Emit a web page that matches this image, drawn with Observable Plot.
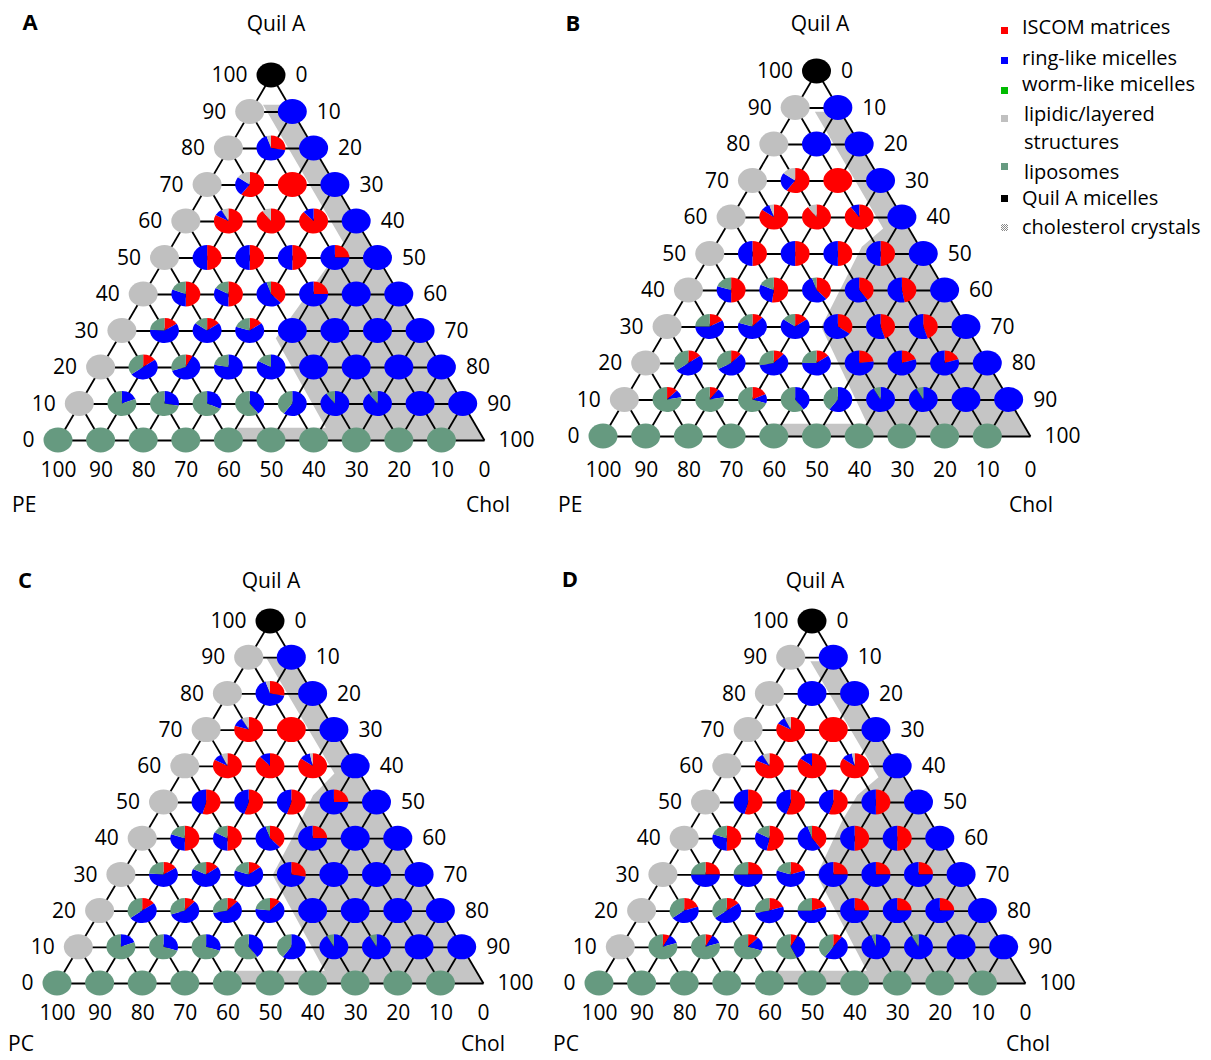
<!DOCTYPE html>
<html>
<head>
<meta charset="utf-8">
<script src="https://cdn.jsdelivr.net/npm/d3@7"></script>
<script src="https://cdn.jsdelivr.net/npm/@observablehq/plot@0.6"></script>
<style>
  html, body { margin: 0; background: #fff; }
  #fig { position: relative; width: 1211px; height: 1060px; overflow: hidden; font-family: "Open Sans", sans-serif; }
  .panel { position: absolute; }
  .lab { position: absolute; font-size: 21px; line-height: 1; color: #000; white-space: nowrap; z-index: 2; }
  .leg { font-size: 20px; }
  .sw { position: absolute; width: 7px; height: 7px; z-index: 2; }
</style>
</head>
<body>
<div id="fig"></div>
<script>
// ---------------- data ----------------
const quilA = [100, 90, 80, 70, 60, 50, 40, 30, 20, 10, 0];     // rows, top to bottom
const gridSteps = [0, 10, 20, 30, 40, 50, 60, 70, 80, 90];      // grid line values
const cholTicks = [0, 10, 20, 30, 40, 50, 60, 70, 80, 90, 100];  // bottom axis positions (Chol %)

const legendLabels = ["ISCOM matrices", "ring-like micelles", "worm-like micelles",
  "lipidic/layered", "liposomes", "Quil A micelles", "cholesterol crystals"];
const legendSecondLine = ["", "", "", "structures", "", "", ""];
const legendKeys = ["R", "B", "W", "G", "L", "K", "X"];
const colors = { R: "#ff0000", B: "#0000ff", W: "#00bb00", G: "#c0c0c0", L: "#669a80", K: "#000000" };
const sliceKeys = ["R", "B", "G", "L"]; // pie slice order: ISCOM, ring-like, lipidic, liposomes

// each row = one Quil A level (100..0); entry j = Chol 10*j
// a letter = a single structure; an array = fractions [ISCOM, ring-like, lipidic, liposomes]
const pieA = [
  ["K"],
  ["G", "B"],
  ["G", [.28, .67, .05, 0], "B"],
  ["G", [.6, .25, .15, 0], "R", "B"],
  ["G", [.83, .09, .08, 0], [.9, 0, .1, 0], [.88, .12, 0, 0], "B"],
  ["G", [.5, .5, 0, 0], [.5, .5, 0, 0], [.5, .5, 0, 0], [.25, .75, 0, 0], "B"],
  ["G", [.5, .31, 0, .19], [.5, .33, 0, .17], [.38, .57, 0, .05], [.25, .75, 0, 0], "B", "B"],
  ["G", [.16, .6, 0, .24], [.15, .7, 0, .15], [.15, .65, 0, .2], "B", "B", "B", "B"],
  ["G", [.15, .5, 0, .35], [.08, .62, 0, .3], [0, .78, 0, .22], [0, .83, 0, .17], "B", "B", "B", "B"],
  ["G", [0, .19, 0, .81], [0, .28, 0, .72], [0, .32, 0, .68], [0, .4, 0, .6], [0, .6, 0, .4], [0, .9, 0, .1], [0, .9, 0, .1], "B", "B"],
  ["L", "L", "L", "L", "L", "L", "L", "L", "L", "L"]
];
const pieB = [
  ["K"],
  ["G", "B"],
  ["G", "B", "B"],
  ["G", [.6, .25, .15, 0], "R", "B"],
  ["G", [.85, .1, .05, 0], [.9, 0, .1, 0], [.9, .1, 0, 0], "B"],
  ["G", [.5, .5, 0, 0], [.5, .5, 0, 0], [.5, .5, 0, 0], [.5, .5, 0, 0], "B"],
  ["G", [.5, .3, 0, .2], [.52, .3, 0, .18], [.38, .57, 0, .05], [.4, .6, 0, 0], [.47, .53, 0, 0], "B"],
  ["G", [.17, .58, 0, .25], [.12, .68, 0, .2], [.15, .7, 0, .15], [.35, .65, 0, 0], [.45, .55, 0, 0], [.45, .55, 0, 0], "B"],
  ["G", [.15, .5, 0, .35], [.12, .55, 0, .33], [.12, .6, 0, .28], [.15, .6, 0, .25], [.23, .77, 0, 0], [.2, .8, 0, 0], [.2, .8, 0, 0], "B"],
  ["G", [.12, .1, 0, .78], [.1, .12, 0, .78], [.18, .12, 0, .7], [0, .4, 0, .6], [0, .6, 0, .4], [0, .92, 0, .08], [0, .92, 0, .08], "B", "B"],
  ["L", "L", "L", "L", "L", "L", "L", "L", "L", "L"]
];
const pieC = [
  ["K"],
  ["G", "B"],
  ["G", [.28, .67, .05, 0], "B"],
  ["G", [.8, .12, .08, 0], "R", "B"],
  ["G", [.83, .1, .07, 0], [.88, .12, 0, 0], [.85, .12, .03, 0], "B"],
  ["G", [.54, .46, 0, 0], [.55, .45, 0, 0], [.55, .45, 0, 0], [.25, .75, 0, 0], "B"],
  ["G", [.5, .3, 0, .2], [.5, .33, 0, .17], [.38, .57, 0, .05], [.25, .75, 0, 0], "B", "B"],
  ["G", [.16, .6, 0, .24], [.15, .67, 0, .18], [.15, .65, 0, .2], [.28, .72, 0, 0], "B", "B", "B"],
  ["G", [.15, .5, 0, .35], [.12, .58, 0, .3], [.12, .6, 0, .28], [.12, .65, 0, .23], "B", "B", "B", "B"],
  ["G", [0, .19, 0, .81], [0, .3, 0, .7], [0, .3, 0, .7], [0, .4, 0, .6], [0, .6, 0, .4], [0, .92, 0, .08], [0, .92, 0, .08], "B", "B"],
  ["L", "L", "L", "L", "L", "L", "L", "L", "L", "L"]
];
const pieD = [
  ["K"],
  ["G", "B"],
  ["G", "B", "B"],
  ["G", [.83, .1, .07, 0], "R", "B"],
  ["G", [.82, .1, .08, 0], [.85, .15, 0, 0], [.85, .12, .03, 0], "B"],
  ["G", [.54, .46, 0, 0], [.55, .45, 0, 0], [.55, .45, 0, 0], [.5, .5, 0, 0], "B"],
  ["G", [.5, .3, 0, .2], [.53, .3, 0, .17], [.4, .55, 0, .05], [.5, .5, 0, 0], [.5, .5, 0, 0], "B"],
  ["G", [.25, .5, 0, .25], [.25, .5, 0, .25], [.2, .6, 0, .2], [.25, .75, 0, 0], [.25, .75, 0, 0], [.25, .75, 0, 0], "B"],
  ["G", [.2, .45, 0, .35], [.15, .5, 0, .35], [.2, .52, 0, .28], [.2, .55, 0, .25], [.25, .75, 0, 0], [.25, .75, 0, 0], [.25, .75, 0, 0], "B"],
  ["G", [.08, .12, 0, .8], [.08, .12, 0, .8], [.12, .18, 0, .7], [.08, .35, 0, .57], [.1, .5, 0, .4], [0, .95, 0, .05], [0, .92, 0, .08], "B", "B"],
  ["L", "L", "L", "L", "L", "L", "L", "L", "L", "L"]
];

// cholesterol-crystal regions, vertices as [Chol %, Quil A %]
const crystalsA = [[8, 92], [100, 0], [42, 0], [40.25, 3.5], [61, 3.5], [37, 28], [40, 54], [2, 92]];
const crystalsB = [[11, 89], [100, 0], [38.5, 0], [36.75, 3.5], [60, 3.5], [36, 30], [34.5, 52], [37, 57], [5, 89]];
const crystalsC = [[10, 90], [100, 0], [42, 0], [40.25, 3.5], [61, 3.5], [35.5, 30], [35, 40], [34, 52], [36, 58], [4, 90]];
const crystalsD = [[11, 89], [100, 0], [41.3, 0], [39.5, 3.5], [61, 3.5], [36, 30], [34.5, 45], [34.5, 52], [37, 57], [5, 89]];

// ---------------- helpers ----------------
const tx = (chol, q) => chol + q / 2;   // ternary -> horizontal coordinate
const RX = 14.5, RY = 12.5;
const DOT = "#8a8a8a";

function buildPoints(rows) {
  const pts = [];
  rows.forEach((row, i) => {
    const q = quilA[i];
    row.forEach((v, j) => {
      pts.push({ q, chol: j * 10, solid: typeof v === "string" ? v : null, parts: Array.isArray(v) ? v : null });
    });
  });
  return pts;
}

function patternMark(id) {
  return () => {
    const defs = d3.create("svg:defs");
    const p = defs.append("pattern").attr("id", id).attr("width", 2).attr("height", 2)
      .attr("patternUnits", "userSpaceOnUse");
    p.append("rect").attr("width", 2).attr("height", 2).attr("fill", "#ffffff");
    p.append("rect").attr("width", 1).attr("height", 1).attr("fill", DOT);
    p.append("rect").attr("x", 1).attr("y", 1).attr("width", 1).attr("height", 1).attr("fill", DOT);
    return defs.node();
  };
}

function pieMark(points) {
  const arc = d3.arc().innerRadius(0).outerRadius(1);
  const pie = d3.pie().sort(null).value(d => d.v);
  return (index, scales) => {
    const g = d3.create("svg:g");
    for (const p of points) {
      const cx = scales.x(tx(p.chol, p.q)), cy = scales.y(p.q);
      const gg = g.append("g").attr("transform", `translate(${cx},${cy}) scale(${RX},${RY})`);
      if (p.solid) {
        gg.append("circle").attr("r", 1).attr("fill", colors[p.solid]);
      } else {
        const slices = sliceKeys.map((k, i) => ({ k, v: p.parts[i] })).filter(d => d.v > 0);
        for (const a of pie(slices)) {
          gg.append("path").attr("d", arc(a)).attr("fill", colors[a.data.k]);
        }
      }
    }
    return g.node();
  };
}

const panels = [
  { id: "A", rows: pieA, crystals: crystalsA, left: 0, top: 0, x0: 58, w: 426, yb: 440, yt: 75, bdy: 30 },
  { id: "B", rows: pieB, crystals: crystalsB, left: 545, top: 0, x0: 58, w: 427, yb: 436, yt: 71, bdy: 34 },
  { id: "C", rows: pieC, crystals: crystalsC, left: 0, top: 545, x0: 57, w: 426, yb: 438, yt: 76, bdy: 30 },
  { id: "D", rows: pieD, crystals: crystalsD, left: 545, top: 545, x0: 54, w: 426, yb: 438, yt: 76, bdy: 30 }
];

const fig = document.getElementById("fig");

for (const P of panels) {
  const points = buildPoints(P.rows);
  const patId = "chol-" + P.id;
  const chart = Plot.plot({
    width: 545,
    height: 515,
    margin: 0,
    x: { domain: [0, 100], range: [P.x0, P.x0 + P.w], axis: null },
    y: { domain: [0, 100], range: [P.yb, P.yt], axis: null },
    style: { fontFamily: '"Open Sans", sans-serif', fontSize: "21px", background: "transparent", overflow: "visible" },
    marks: [
      patternMark(patId),
      Plot.line(P.crystals, { x: d => tx(d[0], d[1]), y: d => d[1], curve: "linear-closed", fill: `url(#${patId})`, stroke: "none" }),
      // constant Quil A (horizontal)
      Plot.link(gridSteps, { x1: q => tx(0, q), y1: q => q, x2: q => tx(100 - q, q), y2: q => q, stroke: "#000", strokeWidth: 1.8 }),
      // constant Chol
      Plot.link(gridSteps, { x1: c => tx(c, 0), y1: 0, x2: c => tx(c, 100 - c), y2: c => 100 - c, stroke: "#000", strokeWidth: 1.8 }),
      // constant lipid (PE/PC)
      Plot.link(gridSteps, { x1: p => tx(100 - p, 0), y1: 0, x2: p => tx(0, 100 - p), y2: p => 100 - p, stroke: "#000", strokeWidth: 1.8 }),
      pieMark(points),
      // left labels (Quil A %)
      Plot.text(quilA, { x: q => tx(0, q), y: q => q, text: q => String(q), textAnchor: "end", dx: -24, fontSize: 21, fill: "#000" }),
      // right labels
      Plot.text(quilA.filter(q => q > 0), { x: q => tx(100 - q, q), y: q => q, text: q => String(100 - q), textAnchor: "start", dx: 24, fontSize: 21, fill: "#000" }),
      Plot.text([0], { x: q => tx(100 - q, q), y: q => q, text: q => String(100 - q), textAnchor: "start", dx: 14, fontSize: 21, fill: "#000" }),
      // bottom labels (lipid %)
      Plot.text(cholTicks, { x: c => tx(c, 0), y: 0, text: c => String(100 - c), textAnchor: "middle", dy: P.bdy, fontSize: 21, fill: "#000" })
    ]
  });
  const div = document.createElement("div");
  div.className = "panel";
  div.style.left = P.left + "px";
  div.style.top = P.top + "px";
  div.appendChild(chart);
  fig.appendChild(div);
}

// ---------------- annotations (HTML) ----------------
function lab(text, x, y, anchor = "start", opts = {}) {
  const d = document.createElement("div");
  d.className = "lab" + (opts.cls ? " " + opts.cls : "");
  d.textContent = text;
  d.style.left = x + "px";
  d.style.top = y + "px";
  const tx = anchor === "middle" ? "-50%" : anchor === "end" ? "-100%" : "0";
  d.style.transform = `translate(${tx}, -55%)`;
  if (opts.bold) { d.style.fontWeight = "bold"; d.style.fontSize = "22px"; }
  fig.appendChild(d);
  return d;
}
const titles = [
  { letter: "A", lx: 30, ly: 22, qx: 276, qy: 25, lipid: "PE", px: 12, py: 506, cx: 510, cy: 506 },
  { letter: "B", lx: 573, ly: 23, qx: 820, qy: 25, lipid: "PE", px: 558, py: 506, cx: 1053, cy: 506 },
  { letter: "C", lx: 25, ly: 580, qx: 271, qy: 582, lipid: "PC", px: 8, py: 1045, cx: 505, cy: 1045 },
  { letter: "D", lx: 570, ly: 579, qx: 815, qy: 582, lipid: "PC", px: 553, py: 1045, cx: 1050, cy: 1045 }
];
for (const t of titles) {
  lab(t.letter, t.lx, t.ly, "middle", { bold: true });
  lab("Quil A", t.qx, t.qy, "middle");
  lab(t.lipid, t.px, t.py, "start");
  lab("Chol", t.cx, t.cy, "end");
}

// legend
const legendY = [30, 60, 90, 118, 166, 198, 227];
const legendTextY = [28, 59, 85, 115, 173, 199, 228];
legendKeys.forEach((k, i) => {
  const s = document.createElement("div");
  s.className = "sw";
  s.style.left = "1001px";
  s.style.top = (legendY[i] - 3.5) + "px";
  if (k === "X") {
    s.style.background = `repeating-conic-gradient(${DOT} 0 25%, #ffffff 0 50%) 0 0 / 2px 2px`;
  } else {
    s.style.background = colors[k];
  }
  fig.appendChild(s);
  const x = (k === "G" || k === "L") ? 1024 : 1022;
  lab(legendLabels[i], x, legendTextY[i], "start", { cls: "leg" });
  if (legendSecondLine[i]) lab(legendSecondLine[i], x, legendTextY[i] + 28, "start", { cls: "leg" });
});
</script>
</body>
</html>
